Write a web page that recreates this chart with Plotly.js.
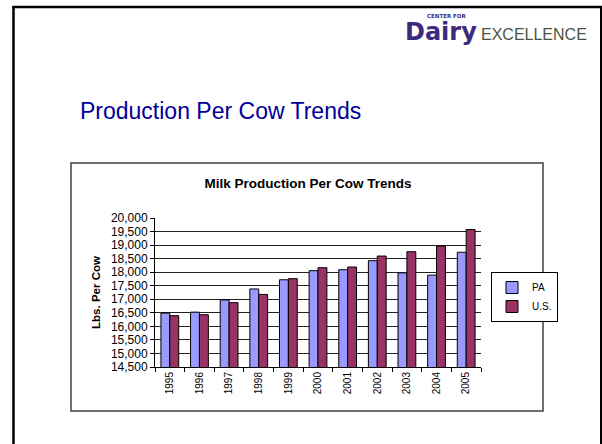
<!DOCTYPE html>
<html>
<head>
<meta charset="utf-8">
<script src="https://cdn.plot.ly/plotly-3.0.1.min.js"></script>
<style>
html,body{margin:0;padding:0;background:#ffffff;}
#chart{width:602px;height:444px;}
</style>
</head>
<body>
<div id="chart"></div>
<script>
// ---- data ----
const years = ['1995','1996','1997','1998','1999','2000','2001','2002','2003','2004','2005'];
const paValues = [16490, 16525, 16975, 17380, 17720, 18055, 18090, 18425, 17975, 17890, 18735];
const usValues = [16395, 16430, 16875, 17180, 17760, 18165, 18190, 18595, 18755, 18965, 19575];
const seriesNames = ['PA', 'U.S.'];
const yTickValues = [14500,15000,15500,16000,16500,17000,17500,18000,18500,19000,19500,20000];
const chartTitle = 'Milk Production Per Cow Trends';
const slideTitle = 'Production Per Cow Trends';
const yAxisTitle = 'Lbs. Per Cow';

// ---- layout helpers (pixel -> paper) ----
const W = 602, H = 444;
const PL = 155, PR = 481, PT = 218, PB = 367;
const px = x => (x - PL) / (PR - PL);
const py = y => (PB - y) / (PB - PT);

const traces = [
  {type:'bar', name:seriesNames[0], x:years, y:paValues,
   marker:{color:'#9999FF', line:{color:'#000000', width:1}}},
  {type:'bar', name:seriesNames[1], x:years, y:usValues,
   marker:{color:'#993366', line:{color:'#000000', width:1}}}
];

const font = 'Liberation Sans, Arial, sans-serif';

const layout = {
  width: W, height: H,
  paper_bgcolor:'#ffffff', plot_bgcolor:'#ffffff',
  margin:{l:PL, r:W-PR, t:PT, b:H-PB, autoexpand:false},
  font:{family:font, color:'#000000', size:11},
  barmode:'group', bargap:0.4, bargroupgap:0,
  showlegend:true,
  legend:{x:px(491), y:py(272), xanchor:'left', yanchor:'top',
    bordercolor:'#000000', borderwidth:1, bgcolor:'#ffffff',
    font:{family:font, size:10, color:'#000000'}, itemwidth:30, tracegroupgap:0},
  title:{text:'<b>'+chartTitle+'</b>', font:{family:font, size:13.5, color:'#000000'},
    xref:'paper', x:px(308), xanchor:'center', yref:'container', y:1-183/H, yanchor:'middle'},
  xaxis:{type:'category', showline:true, linecolor:'#000000', linewidth:1,
    ticks:'outside', ticklen:4, tickcolor:'#000000', tickson:'boundaries',
    tickangle:-90, tickfont:{family:font, size:10, color:'#000000'},
    showgrid:false, zeroline:false, fixedrange:true},
  yaxis:{range:[14500,20000], tickvals:yTickValues, tickformat:',d',
    showline:true, linecolor:'#000000', linewidth:1,
    ticks:'outside', ticklen:4, tickcolor:'#000000',
    tickfont:{family:font, size:12, color:'#000000'},
    showgrid:true, gridcolor:'#222222', gridwidth:1, zeroline:false,
    title:{text:'<b>'+yAxisTitle+'</b>', font:{family:font, size:11.5, color:'#000000'}, standoff:7}},
  shapes:[
    // chart box
    {type:'rect', xref:'paper', yref:'paper', x0:px(71), x1:px(543), y0:py(411), y1:py(163),
     line:{color:'#404040', width:1.5}, fillcolor:'rgba(0,0,0,0)', layer:'below'},
    // slide frame
    {type:'line', xref:'paper', yref:'paper', x0:px(13.5), x1:px(13.5), y0:py(446), y1:py(6),
     line:{color:'#000000', width:2.5}},
    {type:'line', xref:'paper', yref:'paper', x0:px(12.5), x1:px(603), y0:py(7), y1:py(7),
     line:{color:'#000000', width:2.5}},
    {type:'line', xref:'paper', yref:'paper', x0:px(601), x1:px(601), y0:py(446), y1:py(6),
     line:{color:'#000000', width:2}}
  ],
  annotations:[
    {xref:'paper', yref:'paper', x:px(78), y:py(111), xanchor:'left', yanchor:'middle',
     text:slideTitle, showarrow:false, font:{family:font, size:23, color:'#000099'}},
    {xref:'paper', yref:'paper', x:px(425), y:py(16), xanchor:'left', yanchor:'middle',
     text:'<b>CENTER FOR</b>', showarrow:false, font:{family:'DejaVu Sans', size:5.5, color:'#3b2a7e'}},
    {xref:'paper', yref:'paper', x:px(403), y:py(32), xanchor:'left', yanchor:'middle',
     text:'<b>Dairy</b>', showarrow:false, font:{family:'DejaVu Sans', size:24, color:'#3b2a7e'}},
    {xref:'paper', yref:'paper', x:px(479), y:py(34), xanchor:'left', yanchor:'middle',
     text:'EXCELLENCE', showarrow:false, font:{family:font, size:16, color:'#4a5444'}}
  ]
};

Plotly.newPlot('chart', traces, layout, {displayModeBar:false, staticPlot:true});
</script>
</body>
</html>
